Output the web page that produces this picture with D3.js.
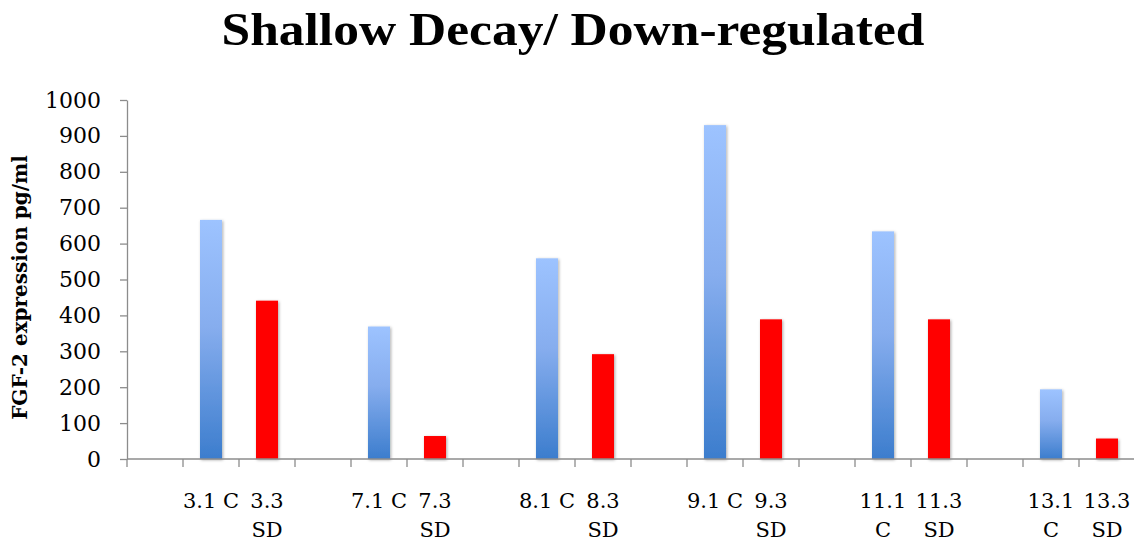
<!DOCTYPE html>
<html>
<head>
<meta charset="utf-8">
<script src="https://cdn.jsdelivr.net/npm/d3@7"></script>
<style>
  html, body { margin: 0; padding: 0; background: #fff; }
  svg { display: block; }
</style>
</head>
<body>
<svg id="chart" width="1141" height="541"></svg>
<script>
// Sample groups: control (C) and shallow-decay (SD) pairs
const groupIds = ["3", "7", "8", "9", "11", "13"];
const controlLabels = ["3.1 C", "7.1 C", "8.1 C", "9.1 C", "11.1 C", "13.1 C"];
const sdLabels = ["3.3 SD", "7.3 SD", "8.3 SD", "9.3 SD", "11.3 SD", "13.3 SD"];
const controlValues = [666, 369, 559, 930, 634, 194];
const sdValues = [441, 64, 292, 389, 389, 57];
const yTicks = [0, 100, 200, 300, 400, 500, 600, 700, 800, 900, 1000];

const titleText = "Shallow Decay/ Down-regulated";
const yTitle = "FGF-2 expression pg/ml";

// Each group takes three slots: an empty spacer, then C, then SD
const slots = [];
groupIds.forEach((g, i) => {
  slots.push({ key: "gap-" + g, label: "", value: null, kind: "gap" });
  slots.push({ key: "c-" + g, label: controlLabels[i], value: controlValues[i], kind: "c" });
  slots.push({ key: "sd-" + g, label: sdLabels[i], value: sdValues[i], kind: "sd" });
});

const svg = d3.select("#chart");
const plotLeft = 127, plotRight = 1135, plotTop = 100, plotBottom = 459;

const x = d3.scaleBand()
  .domain(slots.map(d => d.key))
  .range([plotLeft, plotRight])
  .paddingInner(0.607)
  .paddingOuter(0.3035);
const step = x.step();
const y = d3.scaleLinear().domain([0, 1000]).range([plotBottom, plotTop]);

const defs = svg.append("defs");
const grad = defs.append("linearGradient")
  .attr("id", "blueFill").attr("x1", 0).attr("y1", 0).attr("x2", 0).attr("y2", 1);
grad.append("stop").attr("offset", "0%").attr("stop-color", "#9dc3ff");
grad.append("stop").attr("offset", "45%").attr("stop-color", "#86adee");
grad.append("stop").attr("offset", "100%").attr("stop-color", "#3c7dcd");

const shadow = defs.append("filter").attr("id", "barShadow")
  .attr("x", "-40%").attr("y", "-10%").attr("width", "180%").attr("height", "120%");
shadow.append("feDropShadow")
  .attr("dx", 1).attr("dy", 1).attr("stdDeviation", 1.6)
  .attr("flood-color", "#000").attr("flood-opacity", 0.35);

// Title
svg.append("text")
  .attr("x", 573).attr("y", 45)
  .attr("text-anchor", "middle")
  .attr("font-family", "'Liberation Serif', serif")
  .attr("font-weight", "bold")
  .attr("font-size", 47)
  .attr("textLength", 703)
  .attr("lengthAdjust", "spacingAndGlyphs")
  .attr("fill", "#000")
  .text(titleText);

// Bars
svg.append("g")
  .selectAll("rect")
  .data(slots.filter(d => d.kind !== "gap"))
  .join("rect")
  .attr("x", d => x(d.key))
  .attr("width", x.bandwidth())
  .attr("y", d => y(d.value))
  .attr("height", d => y(0) - y(d.value))
  .attr("fill", d => d.kind === "c" ? "url(#blueFill)" : "#ff0000")
  .attr("filter", "url(#barShadow)");

const axisColor = "#8c8c8c";

// Y axis
const yAxis = svg.append("g")
  .attr("transform", `translate(${plotLeft},0)`)
  .call(d3.axisLeft(y).tickValues(yTicks).tickFormat(d3.format("d"))
    .tickSize(7).tickSizeOuter(0).tickPadding(19));
yAxis.select(".domain").attr("stroke", axisColor).attr("stroke-width", 1.3);
yAxis.selectAll(".tick line").attr("stroke", axisColor).attr("stroke-width", 1.3);
yAxis.selectAll(".tick text")
  .attr("font-family", "'DejaVu Serif', serif")
  .attr("font-size", 22)
  .attr("fill", "#000");

// X axis: baseline with tick marks at slot boundaries
const xAxisG = svg.append("g");
xAxisG.append("line")
  .attr("x1", plotLeft).attr("x2", 1134)
  .attr("y1", y(0)).attr("y2", y(0))
  .attr("stroke", axisColor).attr("stroke-width", 1.3);
xAxisG.selectAll("line.tick")
  .data(slots)
  .join("line")
  .attr("class", "tick")
  .attr("x1", d => x(d.key) - (step - x.bandwidth()) / 2)
  .attr("x2", d => x(d.key) - (step - x.bandwidth()) / 2)
  .attr("y1", y(0)).attr("y2", y(0) + 8)
  .attr("stroke", axisColor).attr("stroke-width", 1.3);

// Category labels, wrapped to the slot width
const labelG = svg.append("g")
  .attr("font-family", "'DejaVu Serif', serif")
  .attr("font-size", 21)
  .attr("fill", "#000")
  .attr("text-anchor", "middle");
slots.filter(d => d.label).forEach(d => {
  const cx = x(d.key) + x.bandwidth() / 2;
  const t = labelG.append("text").attr("x", cx).attr("y", 508);
  const words = d.label.split(" ");
  let line = [];
  let tspan = t.append("tspan").attr("x", cx).attr("y", 508);
  let lineNo = 0;
  words.forEach(w => {
    line.push(w);
    tspan.text(line.join(" "));
    if (tspan.node().getComputedTextLength() > 60 && line.length > 1) {
      line.pop();
      tspan.text(line.join(" "));
      line = [w];
      lineNo++;
      tspan = t.append("tspan").attr("x", cx).attr("y", 508 + lineNo * 29).text(w);
    }
  });
});

// Y axis title
svg.append("text")
  .attr("transform", `translate(27,${(plotTop + plotBottom) / 2 + 8}) rotate(-90)`)
  .attr("text-anchor", "middle")
  .attr("font-family", "'DejaVu Serif', serif")
  .attr("font-weight", "bold")
  .attr("font-size", 20)
  .attr("fill", "#000")
  .text(yTitle);
</script>
</body>
</html>
